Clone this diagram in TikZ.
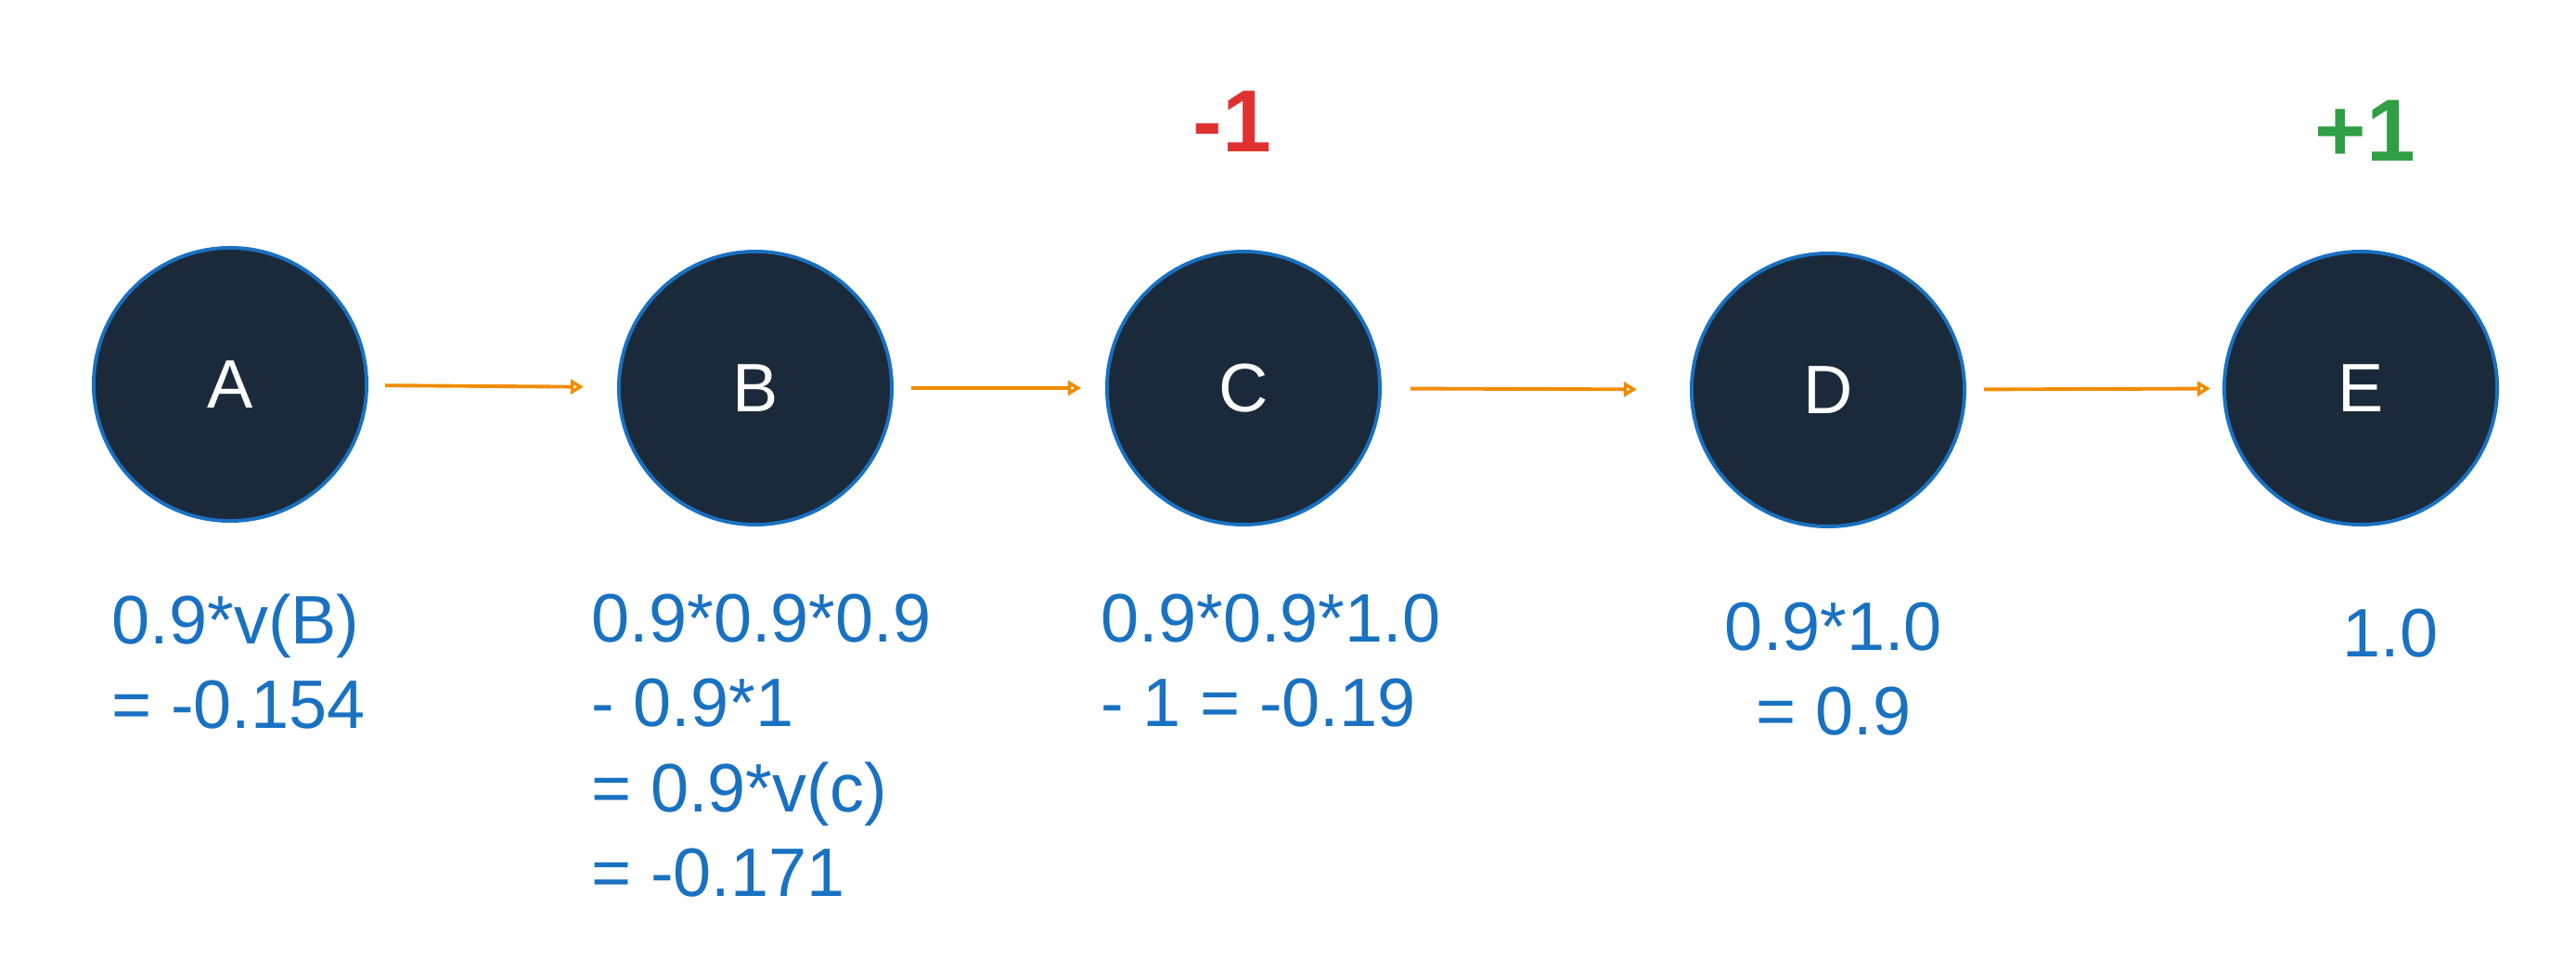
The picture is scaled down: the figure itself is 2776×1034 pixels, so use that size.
\documentclass[tikz,border=0pt]{standalone}
\usepackage{fontspec}
\setmainfont{Liberation Sans}
\usetikzlibrary{arrows.meta}
\definecolor{navy}{HTML}{1B2A3B}
\definecolor{sblue}{HTML}{1971C2}
\definecolor{sorange}{HTML}{F08C00}
\definecolor{sred}{HTML}{E03131}
\definecolor{sgreen}{HTML}{2F9E44}

\begin{document}
\begin{tikzpicture}[x=0.01cm,y=-0.01cm,
		state/.style={circle,draw=sblue,line width=1.1pt,fill=navy,minimum size=2.94cm,inner sep=0pt,text=white,font=\fontsize{21}{26}\selectfont},
		val/.style={text=sblue,align=left,inner sep=0pt,font=\fontsize{21}{26}\selectfont},
		trans/.style={draw=sorange,line width=1.1pt,-{Triangle[open,length=4pt,width=4.5pt]}},
		reward/.style={inner sep=0pt,font=\fontsize{27}{30}\selectfont\bfseries}]
			\useasboundingbox (0,0) rectangle (2776,1034);
			\node[state] (A) at (248,414) {A};
			\node[state] (B) at (814,418) {B};
			\node[state] (C) at (1340,418) {C};
			\node[state] (D) at (1970,420) {D};
			\node[state] (E) at (2544,418) {E};
			\draw[trans,shorten <=0.18cm,shorten >=0.36cm] (A) -- (B);
			\draw[trans,shorten <=0.19cm,shorten >=0.26cm] (B) -- (C);
			\draw[trans,shorten <=0.31cm,shorten >=0.57cm] (C) -- (D);
			\draw[trans,shorten <=0.19cm,shorten >=0.13cm] (D) -- (E);
			\node[reward,text=sred] (rc) at (1328,131) {-1};
			\node[reward,text=sgreen] (re) at (2549,141) {+1};
			\node[val,anchor=north west] (va) at (120,639) {0.9*v(B)\\= -0.154};
			\node[val,anchor=north west] (vb) at (637,639) {0.9*0.9*0.9\\- 0.9*1\\= 0.9*v(c)\\= -0.171};
			\node[val,anchor=north west] (vc) at (1186,639) {0.9*0.9*1.0\\- 1 = -0.19};
			\node[val,anchor=north,align=center] (vd) at (1976,648) {0.9*1.0\\= 0.9};
			\node[val] (ve) at (2576,682) {1.0};
		\end{tikzpicture}
\end{document}
